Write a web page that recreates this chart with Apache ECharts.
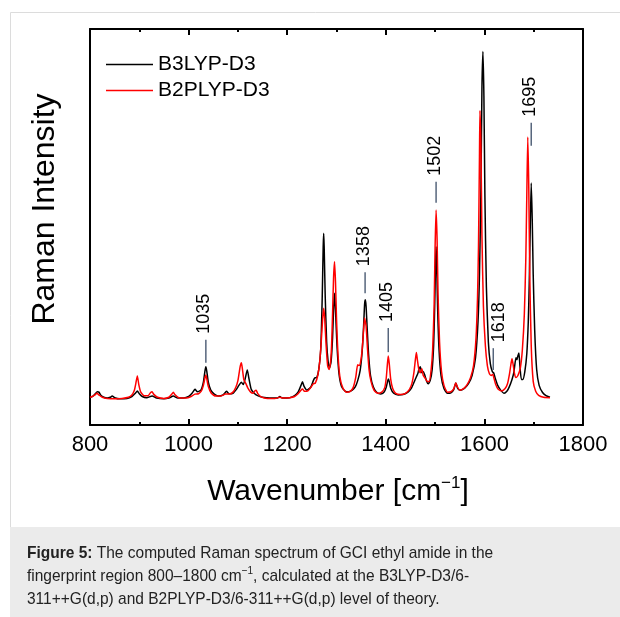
<!DOCTYPE html>
<html><head><meta charset="utf-8">
<script src="https://cdn.jsdelivr.net/npm/echarts@6/dist/echarts.min.js"></script>
<style>html,body{margin:0;padding:0;background:#fff}#c{width:620px;height:617px}</style>
</head><body><div id="c"></div>
<script>
// x tick labels
const xTicks = [800, 1000, 1200, 1400, 1600, 1800];
const seriesNames = ['B3LYP-D3', 'B2PLYP-D3'];
// B3LYP-D3 spectrum [wavenumber, intensity]
const b3lyp = [
[800,7.0],[805,7.2],[810,7.8],[815,8.4],[818,8.3],[822,7.5],[828,7.0],[835,6.8],[841,7.0],[845,7.3],[850,6.9],[860,6.6],[875,6.7],[885,7.2],[892,8.0],[896,8.6],[900,7.9],[906,7.2],[915,6.9],[926,7.3],[935,6.8],[950,6.6],[960,6.8],[969,7.3],[978,6.8],[990,6.8],[1000,7.2],[1008,8.2],[1013,9.0],[1018,8.4],[1025,8.8],[1030,10.8],[1033,13.5],[1035,14.7],[1037,13.5],[1040,10.8],[1045,8.8],[1052,7.8],[1060,7.3],[1070,7.6],[1077,8.5],[1082,7.9],[1090,8.0],[1097,9.0],[1102,10.0],[1107,10.8],[1111,10.2],[1115,11.8],[1119,13.9],[1122,12.0],[1127,9.0],[1133,8.0],[1140,7.4],[1150,7.0],[1165,6.8],[1180,6.8],[1185,7.2],[1190,6.8],[1205,6.9],[1215,7.4],[1222,8.3],[1228,10.0],[1231,10.9],[1234,9.8],[1240,8.8],[1248,9.6],[1253,11.2],[1256,11.9],[1260,12.0],[1264,14.0],[1268,19],[1271,32],[1273,45],[1274,48.4],[1275,45],[1277,33],[1280,21],[1283,16],[1286,14.5],[1289,16],[1292,22],[1294,29],[1296,33.3],[1298,29],[1301,20],[1305,13],[1310,9.8],[1318,8.5],[1325,8.4],[1332,8.8],[1338,9.6],[1343,11.2],[1348,13.8],[1352,18.5],[1355,25],[1357,30.5],[1358.5,31.6],[1360,30],[1362,25],[1365,18],[1369,12.5],[1375,9.5],[1382,8.2],[1390,7.8],[1397,8.4],[1401,9.6],[1404,11.2],[1405.5,11.6],[1407,11],[1410,9.3],[1416,8.0],[1425,7.6],[1435,7.7],[1445,8.3],[1452,9.3],[1458,11.0],[1462,12.2],[1465,13.0],[1467,14.0],[1470,14.7],[1473,13.2],[1476,13.5],[1479,12.6],[1483,11.0],[1486,10.4],[1490,11.2],[1494,14],[1497,20],[1499,29],[1501,41],[1502,45],[1503,42],[1505,30],[1508,19],[1512,12.5],[1518,9.2],[1525,8.0],[1532,8.1],[1538,9.0],[1542,10.6],[1546,9.2],[1552,8.8],[1560,9.3],[1568,10.5],[1575,12.5],[1582,17],[1587,26],[1590,38],[1593,60],[1595,85],[1597,94.3],[1599,83],[1601,58],[1604,35],[1608,21],[1612,15.5],[1616,13.5],[1619,13.1],[1622,11.8],[1627,10.0],[1633,8.8],[1640,8.0],[1646,8.6],[1650,9.5],[1656,11.5],[1660,13.5],[1664,17.0],[1666,16.5],[1668,17.5],[1670,18.2],[1672,15.0],[1675,11.5],[1678,11.5],[1682,13.5],[1686,18],[1689,26],[1691,36],[1693,50],[1695,61.1],[1697,52],[1699,38],[1702,24],[1706,14],[1711,10],[1718,8.2],[1725,7.4],[1733,7.0]
];
// B2PLYP-D3 spectrum [wavenumber, intensity]
const b2plyp = [
[800,7.0],[805,7.2],[810,7.6],[814,8.0],[818,7.6],[825,7.0],[835,6.7],[850,6.6],[865,6.7],[878,7.0],[885,7.6],[890,8.8],[893,10.5],[896,12.4],[899,10.2],[903,8.3],[910,7.4],[918,7.4],[923,8.2],[926,8.4],[929,7.8],[937,7.0],[950,6.7],[960,7.0],[966,7.8],[969,8.3],[972,7.7],[980,6.9],[995,6.8],[1005,7.2],[1013,7.8],[1020,7.9],[1026,8.6],[1030,10.0],[1033,11.8],[1035,12.6],[1037,11.6],[1040,9.7],[1046,8.0],[1055,7.3],[1065,7.3],[1075,7.8],[1082,7.8],[1090,8.3],[1096,9.6],[1100,11.2],[1103,13.5],[1105,15.0],[1107,15.7],[1109,14.3],[1112,11.5],[1116,10.5],[1120,9.4],[1126,8.3],[1131,8.0],[1135,8.7],[1137,8.8],[1140,8.0],[1147,7.1],[1160,6.7],[1175,6.7],[1185,7.0],[1192,6.8],[1205,6.9],[1215,7.2],[1222,7.9],[1228,8.8],[1231,9.1],[1235,8.5],[1242,8.6],[1248,9.5],[1253,10.4],[1257,10.6],[1262,12.5],[1266,16],[1269,21],[1272,27],[1274,29.5],[1276,27],[1279,20],[1282,15],[1285,14],[1288,16],[1290,20],[1292,28],[1294,37],[1296,41.2],[1298,36],[1300,27],[1303,18],[1307,12],[1313,9.3],[1320,8.3],[1328,8.5],[1334,9.5],[1339,12],[1343,15.2],[1346,15],[1349,16],[1352,19],[1355,24],[1357,27],[1358,27.0],[1360,25],[1363,19],[1366,14],[1370,11],[1376,8.8],[1384,8.0],[1392,8.3],[1398,9.5],[1401,12],[1403,15],[1405,17.4],[1407,15.5],[1410,11.5],[1414,9.2],[1420,8.0],[1430,7.7],[1440,8.0],[1448,9.0],[1453,10.5],[1457,13.2],[1460,16.5],[1462,18.3],[1464,16.5],[1467,14],[1470,13.2],[1473,14.2],[1476,12.5],[1480,11.8],[1484,11.0],[1488,11],[1492,14],[1495,19],[1498,30],[1500,45],[1502,54.3],[1504,47],[1506,33],[1509,21],[1513,13.5],[1518,10],[1525,8.3],[1532,8.4],[1538,9.2],[1542,10.6],[1545,9.7],[1550,8.8],[1558,9.2],[1565,10.2],[1572,12.0],[1578,15],[1583,22],[1586,32],[1588,45],[1590,68],[1591,79.4],[1593,70],[1595,48],[1598,30],[1602,20],[1606,15],[1610,13],[1614,12.5],[1617,12.8],[1619,12.0],[1623,10.2],[1628,9.0],[1635,8.6],[1642,9.2],[1647,10.5],[1651,13],[1654,15.5],[1656,16.7],[1658,15.5],[1661,13],[1664,12],[1668,12.5],[1673,14.5],[1677,19],[1681,28],[1684,42],[1686,58],[1688,72.7],[1690,60],[1692,38],[1695,20],[1699,11],[1704,8.5],[1710,7.5],[1720,7.0],[1733,6.9]
];
// peak annotations: [wavenumber, tick low, tick high, label wavenumber]
const peakWn = [1035, 1358, 1405, 1502, 1618, 1695];
const peakTickLow = [15.7, 33.3, 18.4, 56.1, 13.9, 70.5];
const peakTickHigh = [21.5, 38.6, 24.5, 61.4, 19.4, 76.3];
const peakLabelWn = [1032, 1355, 1402, 1500, 1629, 1693];
const peakLabels = ['1035', '1358', '1405', '1502', '1618', '1695'];

const annData = peakWn.map((w, i) => [w, peakTickLow[i], peakTickHigh[i], peakLabelWn[i]]);
const FONT = '"Liberation Sans", Arial, Helvetica, sans-serif';

const chart = echarts.init(document.getElementById('c'), null, {renderer: 'canvas'});
chart.setOption({
  animation: false,
  backgroundColor: '#fff',
  grid: {left: 90, top: 29, right: 37, bottom: 192, containLabel: false},
  legend: {
    data: seriesNames, orient: 'vertical', left: 101, top: 49,
    itemWidth: 47, itemHeight: 20, itemGap: 5, icon: 'path://M0,0 L47,0 L47,1.6 L0,1.6 Z',
    textStyle: {fontFamily: FONT, fontSize: 21, color: '#000', padding: [0, 0, 0, 0]}
  },
  xAxis: [{
    type: 'value', min: xTicks[0], max: xTicks[xTicks.length - 1], interval: 200, position: 'bottom',
    axisLine: {show: true, lineStyle: {color: '#000', width: 2}},
    axisTick: {show: true, inside: true, length: 6, lineStyle: {color: '#000', width: 2}},
    minorTick: {show: true, splitNumber: 2, length: 3, lineStyle: {color: '#000', width: 2}},
    axisLabel: {show: true, fontFamily: FONT, fontSize: 22, color: '#000', margin: 9, showMinLabel: true, showMaxLabel: true,
      formatter: v => String(v)},
    splitLine: {show: false}
  }, {
    type: 'value', min: xTicks[0], max: xTicks[xTicks.length - 1], interval: 200, position: 'top',
    axisLine: {show: true, onZero: false, lineStyle: {color: '#000', width: 2}},
    axisTick: {show: true, inside: true, length: 6, lineStyle: {color: '#000', width: 2}},
    minorTick: {show: true, splitNumber: 2, length: 3, lineStyle: {color: '#000', width: 2}},
    axisLabel: {show: false}, splitLine: {show: false}
  }],
  yAxis: [{
    type: 'value', min: 0, max: 100, position: 'left',
    axisLine: {show: true, onZero: false, lineStyle: {color: '#000', width: 2}},
    axisTick: {show: false}, axisLabel: {show: false}, splitLine: {show: false}
  }, {
    type: 'value', min: 0, max: 100, position: 'right',
    axisLine: {show: true, onZero: false, lineStyle: {color: '#000', width: 2}},
    axisTick: {show: false}, axisLabel: {show: false}, splitLine: {show: false}
  }],
  series: [{
    name: seriesNames[0], type: 'line', data: b3lyp, symbol: 'none', smooth: 0.2,
    lineStyle: {color: '#000', width: 1.5}, itemStyle: {color: '#000'}, z: 2
  }, {
    name: seriesNames[1], type: 'line', data: b2plyp, symbol: 'none', smooth: 0.2,
    lineStyle: {color: '#ff0000', width: 1.5}, itemStyle: {color: '#ff0000'}, z: 3
  }, {
    type: 'custom', data: annData, silent: true, z: 4,
    renderItem: function (params, api) {
      const i = params.dataIndex;
      const p1 = api.coord([api.value(0), api.value(1)]);
      const p2 = api.coord([api.value(0), api.value(2)]);
      const pt = api.coord([api.value(3), api.value(2)]);
      return {type: 'group', children: [
        {type: 'line', shape: {x1: p1[0], y1: p1[1], x2: p2[0], y2: p2[1]}, style: {stroke: '#56657c', lineWidth: 1.5}},
        {type: 'text', x: pt[0], y: pt[1] - 6, rotation: Math.PI / 2,
         style: {text: peakLabels[i], fontFamily: FONT, fontSize: 18, fill: '#000', align: 'left', verticalAlign: 'middle'}}
      ]};
    }
  }],
  graphic: [
    {type: 'rect', shape: {x: 10.5, y: 12.5, width: 620, height: 620}, style: {fill: 'none', stroke: '#dcdcdc', lineWidth: 1}, z: -10},
    {type: 'rect', shape: {x: 10, y: 527, width: 610, height: 90}, style: {fill: '#ebebeb'}, z: -9},
    {type: 'text', x: 45, y: 209, rotation: Math.PI / 2,
     style: {text: 'Raman Intensity', fontFamily: FONT, fontSize: 32, fill: '#000', align: 'center', verticalAlign: 'middle'}},
    {type: 'text', x: 338, y: 492,
     style: {text: '{a|Wavenumber [cm}{s|−1}{a|]}', align: 'center', verticalAlign: 'middle',
       rich: {a: {fontFamily: FONT, fontSize: 30, fill: '#000', lineHeight: 34},
              s: {fontFamily: FONT, fontSize: 17, fill: '#000', verticalAlign: 'top', lineHeight: 34}}}},
    {type: 'text', x: 27, y: 542, scaleX: 0.912,
     style: {text: '{b|Figure 5:}{r| The computed Raman spectrum of GCI ethyl amide in the}\n{r|fingerprint region 800–1800 cm}{s|−1}{r|, calculated at the B3LYP-D3/6-}\n{r|311++G(d,p) and B2PLYP-D3/6-311++G(d,p) level of theory.}',
       align: 'left', verticalAlign: 'top',
       rich: {b: {fontFamily: FONT, fontSize: 17, fontWeight: 'bold', fill: '#222', lineHeight: 23},
              r: {fontFamily: FONT, fontSize: 17, fill: '#222', lineHeight: 23},
              s: {fontFamily: FONT, fontSize: 11, fill: '#222', lineHeight: 23, verticalAlign: 'top'}}}}
  ]
});
</script></body></html>
